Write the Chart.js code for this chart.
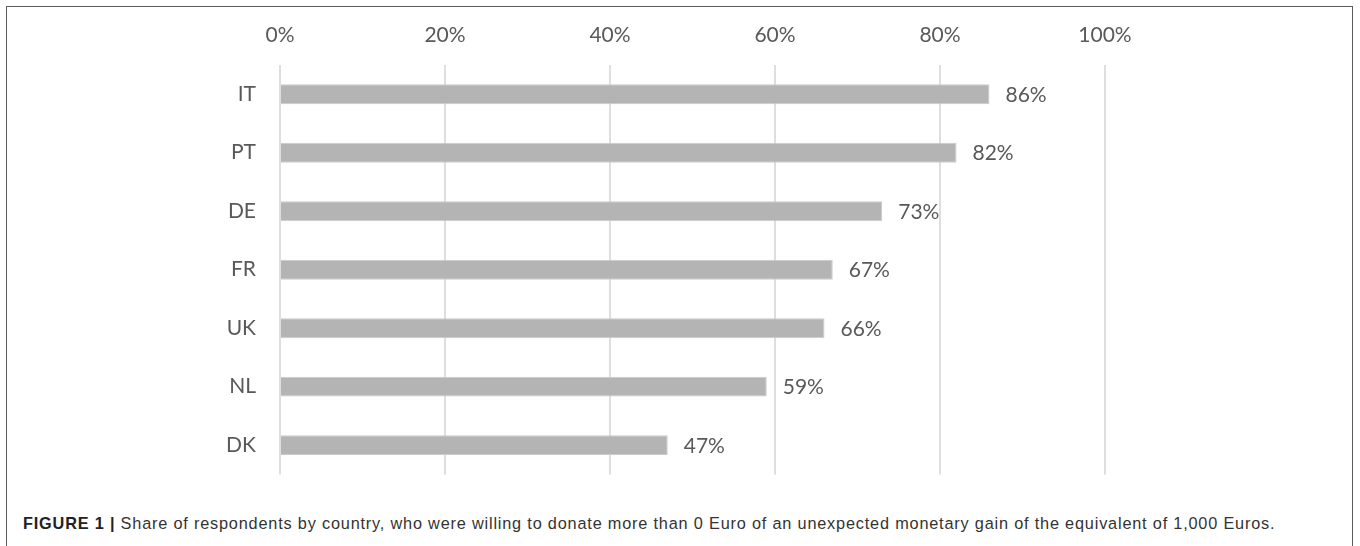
<!DOCTYPE html>
<html>
<head>
<meta charset="utf-8">
<script src="https://cdn.jsdelivr.net/npm/chart.js@4.4.1/dist/chart.umd.min.js"></script>
<style>
    html, body {
        margin: 0;
        padding: 0;
        background: #ffffff;
        width: 1360px;
        height: 546px;
        overflow: hidden;
    }
    .frame {
        position: absolute;
        left: 6px;
        top: 6px;
        width: 1345px;
        height: 600px;
        border: 1px solid #5a5a5a;
    }
    .chartBox {
        position: absolute;
        left: 0;
        top: 0;
        width: 1360px;
        height: 511px;
    }
    .caption {
        position: absolute;
        left: 23px;
        top: 514px;
        font-family: "Liberation Sans", Arial, sans-serif;
        font-size: 16.3px;
        color: #333333;
        white-space: nowrap;
    }
    .caption b {
        color: #222222;
    }
</style>
</head>
<body>
<div class="frame"></div>
<div class="chartBox"><canvas id="barChart" width="1360" height="511"></canvas></div>
<div class="caption" id="caption"><b>FIGURE 1 |</b> Share of respondents by country, who were willing to donate more than 0 Euro of an unexpected monetary gain of the equivalent of 1,000 Euros.</div>

<script>
    // 국가별 값 (%)
    const countries = ['IT', 'PT', 'DE', 'FR', 'UK', 'NL', 'DK'];
    const shares = [86, 82, 73, 67, 66, 59, 47];
    const tickValues = [0, 20, 40, 60, 80, 100];

    const textColor = '#595959';
    const chartFont = 'Lato, "Open Sans", sans-serif';

    // 캡션 폭을 원본(약 1253px)에 맞추기
    const caption = document.getElementById('caption');
    const captionChars = caption.textContent.length;
    const extra = (1253 - caption.getBoundingClientRect().width) / captionChars;
    caption.style.letterSpacing = extra.toFixed(2) + 'px';

    // 막대 끝에 % 라벨 그리기 (datalabels 플러그인 대신)
    const valueLabels = {
        id: 'valueLabels',
        afterDatasetsDraw(chart) {
            const ctx = chart.ctx;
            const meta = chart.getDatasetMeta(0);
            ctx.save();
            ctx.font = '21px ' + chartFont;
            ctx.fillStyle = textColor;
            ctx.textAlign = 'left';
            ctx.textBaseline = 'middle';
            meta.data.forEach((bar, i) => {
                ctx.fillText(shares[i] + '%', bar.x + 16, bar.y + 1);
            });
            ctx.restore();
        }
    };

    const barChart = new Chart(document.getElementById('barChart'), {
        type: 'bar',
        plugins: [valueLabels],
        data: {
            labels: countries,
            datasets: [{
                data: shares,
                backgroundColor: '#b4b4b4',
                borderColor: '#cacaca',
                borderWidth: 1,
                categoryPercentage: 1,
                barPercentage: 0.34
            }]
        },
        options: {
            indexAxis: 'y',
            responsive: false,
            animation: false,
            layout: {
                padding: { left: 0, right: 255, top: 0, bottom: 15 }
            },
            plugins: {
                legend: { display: false },
                tooltip: { enabled: false }
            },
            scales: {
                x: {
                    position: 'top',
                    min: 0,
                    max: 100,
                    afterBuildTicks: (scale) => {
                        scale.ticks = tickValues.map(v => ({ value: v }));
                    },
                    afterFit: (scale) => { scale.height = 65; },
                    grid: {
                        color: '#dedede',
                        lineWidth: 2,
                        drawTicks: false
                    },
                    border: { display: false },
                    ticks: {
                        padding: 17,
                        color: textColor,
                        font: { family: chartFont, size: 21 },
                        callback: (v) => v + '%'
                    }
                },
                y: {
                    afterFit: (scale) => { scale.width = 280; },
                    grid: { display: false, drawTicks: false },
                    border: { display: false },
                    ticks: {
                        padding: 24,
                        color: textColor,
                        font: { family: chartFont, size: 21 }
                    }
                }
            }
        }
    });
</script>
</body>
</html>
